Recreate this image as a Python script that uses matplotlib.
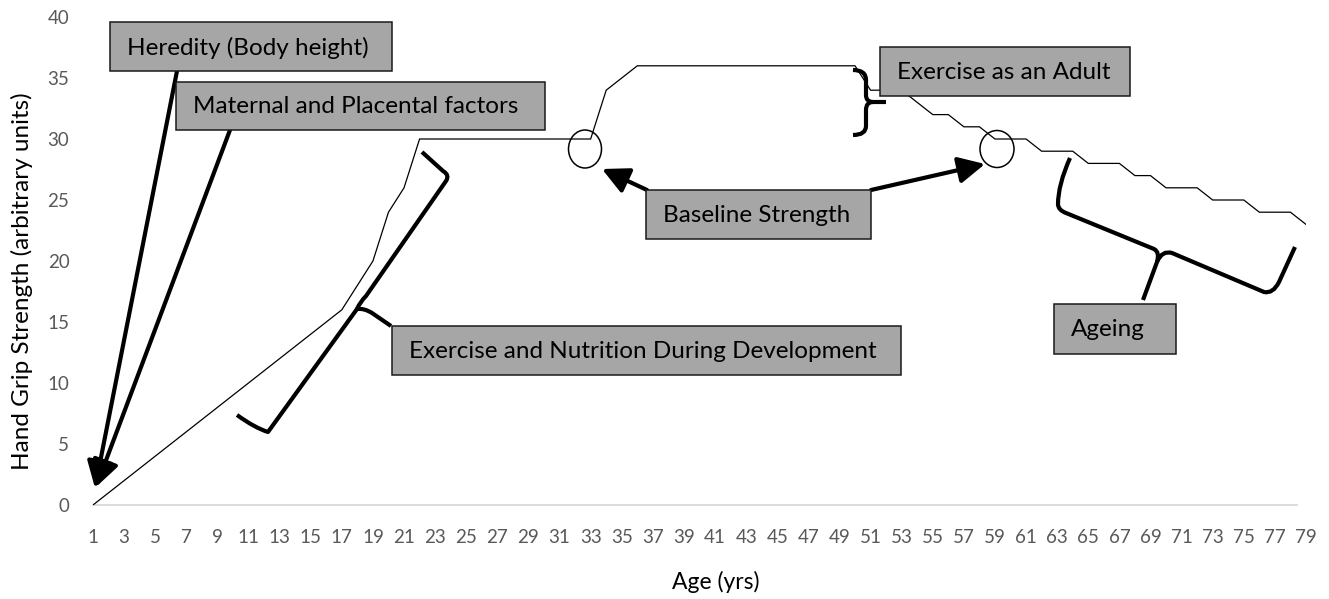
import matplotlib
matplotlib.use("Agg")
import matplotlib.pyplot as plt
from matplotlib.patches import Rectangle, Ellipse, FancyArrowPatch, PathPatch
from matplotlib.path import Path

# ---------------- data ----------------
ages = list(range(1, 80))
strength = ([a - 1 for a in range(1, 18)] +          # ages 1-17
            [18, 20, 24, 26] +                        # ages 18-21
            [30] * 12 +                               # ages 22-33
            [34, 35] +                                # ages 34-35
            [36] * 15 +                               # ages 36-50
            [34, 34, 34, 33, 32, 32, 31, 31, 30, 30, 30,   # ages 51-61
             29, 29, 29, 28, 28, 28, 27, 27, 26, 26, 26,   # ages 62-72
             25, 25, 25, 24, 24, 24, 23])                  # ages 73-79
x_ticks = list(range(1, 80, 2))
y_ticks = [0, 5, 10, 15, 20, 25, 30, 35, 40]

box_labels = ["Heredity (Body height)", "Maternal and Placental factors",
              "Exercise and Nutrition During Development", "Baseline Strength",
              "Exercise as an Adult", "Ageing"]
x_title = "Age (yrs)"
y_title = "Hand Grip Strength (arbitrary units)"

# ---------------- figure ----------------
W, H = 1329, 599
FONT = "Lato"
fig = plt.figure(figsize=(W / 100, H / 100), dpi=100)
fig.patch.set_facecolor("white")

def fx(x):
    return x / W

def fy(y):
    return 1 - y / H

def P(x, y):
    return (x / W, 1 - y / H)

ax = fig.add_axes([fx(93), fy(505), fx(1306) - fx(93), fy(17) - fy(505)])
ax.plot(ages, strength, color="black", lw=0.9, solid_joinstyle="miter", zorder=3)
ax.set_xlim(1, 79)
ax.set_ylim(0, 40)
for s in ["top", "right", "left"]:
    ax.spines[s].set_visible(False)
ax.spines["bottom"].set_color("#d9d9d9")
ax.spines["bottom"].set_linewidth(1.3)
ax.spines["bottom"].set_bounds(1, 78.4)
ax.set_xticks(x_ticks)
ax.set_xticklabels([str(v) for v in x_ticks], fontsize=13.5, color="#595959", family=FONT)
ax.set_yticks(y_ticks)
ax.set_yticklabels([str(v) for v in y_ticks], fontsize=13.5, color="#595959", family=FONT)
ax.tick_params(axis="both", length=0)
ax.tick_params(axis="x", pad=17)
ax.tick_params(axis="y", pad=17)
ax.patch.set_alpha(0)

fig.text(fx(716), fy(582), x_title, ha="center", va="center", fontsize=16.5,
         family=FONT, color="black")
fig.text(fx(22), fy(281), y_title, ha="center", va="center", rotation=90,
         fontsize=17.5, family=FONT, color="black")

# ---------------- boxes ----------------
boxes = [(110, 22, 392, 71), (176, 82, 545, 130), (392, 326, 901, 375),
         (646, 190, 871, 239), (880, 47, 1130, 96), (1054, 304, 1176, 354)]
for (x0, y0, x1, y1), lab in zip(boxes, box_labels):
    r = Rectangle(P(x0, y1), fx(x1) - fx(x0), fy(y0) - fy(y1), transform=fig.transFigure,
                  facecolor="#a6a6a6", edgecolor="#1a1a1a", lw=1.1, zorder=5)
    fig.patches.append(r)
    fig.text(fx(x0 + 17), fy((y0 + y1) / 2 + 1), lab, ha="left", va="center",
             fontsize=17.5, family=FONT, color="black", zorder=6)

# ---------------- arrows ----------------
arrows = [((177, 71), (95, 488)), ((230, 130), (96, 487)),
          ((647, 190), (602, 169)), ((871, 190), (985, 164))]
for a, b in arrows:
    arr = FancyArrowPatch(P(*a), P(*b), transform=fig.transFigure,
                          arrowstyle="-|>,head_length=0.8,head_width=0.4",
                          mutation_scale=20, color="black", lw=3.0, zorder=4,
                          shrinkA=0, shrinkB=0)
    fig.patches.append(arr)

# ---------------- circles ----------------
for cx, cy, w, h in [(585, 149, 33, 38), (997, 149, 34, 37)]:
    e = Ellipse(P(cx, cy), w / W, h / H, transform=fig.transFigure,
                facecolor="none", edgecolor="black", lw=1.1, zorder=4)
    fig.patches.append(e)

# ---------------- braces ----------------
M, L, C = Path.MOVETO, Path.LINETO, Path.CURVE3

def brace(segs):
    verts, codes = [], []
    for code, pts in segs:
        for p in pts:
            verts.append(P(*p))
            codes.append(code)
    return Path(verts, codes)

brace_paths = [
    # exercise & nutrition during development
    [(M, [(237, 415)]), (C, [(255, 428), (268, 432)]), (L, [(357, 309)]),
     (C, [(364, 308), (372, 313)]), (L, [(391, 326)])],
    [(M, [(357, 309)]), (C, [(360, 302), (366, 296)]), (L, [(446, 181)]),
     (C, [(450, 175), (443, 171)]), (L, [(422, 152)])],
    # exercise as an adult
    [(M, [(853, 70)]), (C, [(866, 70), (866, 80)]), (L, [(866, 95)]),
     (C, [(866, 102), (873, 102)]), (L, [(886, 102)])],
    [(M, [(873, 102)]), (C, [(866, 102), (866, 110)]), (L, [(866, 126)]),
     (C, [(866, 135), (853, 135)])],
    # ageing
    [(M, [(1070, 158)]), (C, [(1058, 185), (1058, 204)]), (C, [(1058, 210), (1066, 213)]),
     (L, [(1154, 249)]), (C, [(1160, 252), (1157, 262)]), (L, [(1143, 300)])],
    [(M, [(1157, 262)]), (C, [(1162, 250), (1172, 253)]), (L, [(1264, 292)]),
     (C, [(1273, 294), (1279, 282)]), (L, [(1295, 247)])],
]
for segs in brace_paths:
    pp = PathPatch(brace(segs), transform=fig.transFigure, facecolor="none",
                   edgecolor="black", lw=3.0, capstyle="butt", joinstyle="round",
                   zorder=4)
    fig.patches.append(pp)

fig.savefig("out.png", dpi=100, facecolor="white")
